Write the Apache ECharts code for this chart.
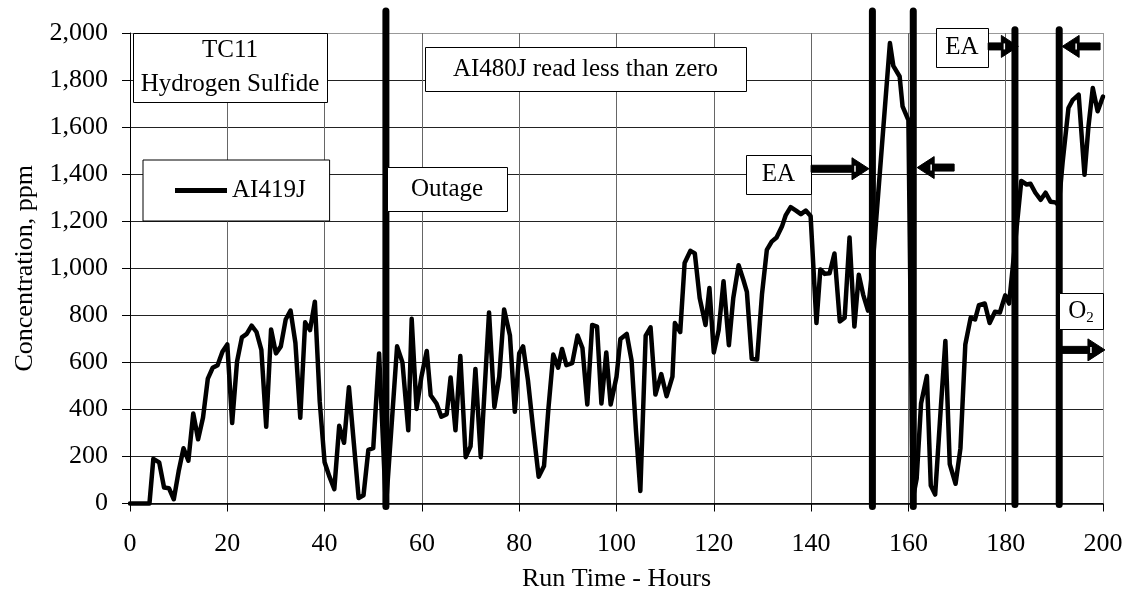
<!DOCTYPE html>
<html>
<head>
<meta charset="utf-8">
<script src="https://cdn.jsdelivr.net/npm/echarts@6/dist/echarts.min.js"></script>
<style>
html,body{margin:0;padding:0;background:#fff;}
#chart{width:1130px;height:598px;}
</style>
</head>
<body>
<div id="chart"></div>
<script>
// Run time (hours) and AI419J concentration (ppm)
const hours = [
  0,4,4.8,
  6,7,8,9,10,11,12,13,14,15,16,17,18,19,20,21,22,23,24,25,26,27,28,29,30,31,32,33,34,35,36,37,38,39,40,41,42,43,44,45,46,47,48,49,50,
  51.2,52.6,54.9,56,57.2,57.9,58.9,59.9,
  61,61.8,63,64,65.1,65.9,66.9,67.9,69,70,
  71,72.1,73.8,74.9,75.9,76.9,78.1,79.1,80,80.8,
  81.8,82.9,84,85.1,86,87,88,88.8,89.7,90.9,
  92,93,94,95,96,96.9,97.9,98.8,100,100.8,
  102.1,103.1,104,104.9,106,107,108,109.2,110.3,111.5,
  112,113.1,114,115.2,116.1,117.1,118.3,119.1,120,121,
  122,123.1,124,125.1,126.1,126.8,127.8,128.9,129.9,130.9,
  131.9,132.9,134,134.8,135.8,136.9,137.9,138.9,139.9,141.1,
  141.9,142.8,143.8,144.8,145.9,146.9,147.9,148.9,149.8,150.7,
  151.7,152.6,156.2,156.9,158.2,158.8,160.0,160.9,161.7,162.6,
  163.8,164.6,165.5,166.6,167.6,168.5,169.7,170.7,171.7,172.8,
  173.7,174.5,175.7,176.7,177.8,178.8,179.9,180.7,181.4,183.2,
  184.3,185.1,186.1,187.2,188.2,189.2,190.2,190.9,191.7,192.9,
  193.8,195.0,196.2,197.0,197.9,198.9,200
];
const ppm = [
  0,0,190,
  175,68,65,18,137,235,182,383,273,364,531,577,588,645,676,342,603,706,721,756,729,653,326,740,638,668,782,820,683,364,770,737,858,433,175,114,61,330,258,494,258,23,35,228,235,
  638,-15,668,600,311,785,402,539,
  648,460,425,369,380,536,311,627,197,243,
  572,197,812,410,539,825,714,390,638,668,
  524,311,114,159,402,633,577,657,588,597,
  714,661,421,759,752,425,642,421,539,699,
  721,607,311,53,714,749,463,550,456,539,
  767,729,1022,1074,1063,873,759,916,642,737,
  945,673,873,1013,949,900,615,612,888,1078,
  1113,1131,1177,1226,1260,1245,1230,1245,1222,767,
  995,976,979,1063,774,790,1131,752,972,888,
  820,1000,1957,1860,1815,1688,1630,20,106,425,
  542,76,38,387,691,167,84,235,676,790,
  782,843,850,767,815,812,885,850,995,1371,
  1356,1359,1321,1291,1321,1283,1280,1268,1450,1681,
  1716,1738,1397,1600,1766,1667,1730
];

// Event marker lines (hours) with their top/bottom extents (ppm)
const markerHours = [52.6, 152.6, 161.0, 181.9, 191.0];
const markerTop = [2093, 2093, 2093, 2014, 2014];
const markerBottom = [-13, -13, -13, -4, -4];

// Arrows: tail and tip in (hour, ppm)
const arrowTail = [[140.0,1423],[169.4,1428],[176.4,1943],[199.4,1943],[191.2,653]];
const arrowTip  = [[151.9,1423],[161.8,1428],[182.6,1943],[191.6,1943],[200.4,653]];

const xTicks = [0,20,40,60,80,100,120,140,160,180,200];
const yTicks = [0,200,400,600,800,1000,1200,1400,1600,1800,2000];

const FONT = "'Liberation Serif','Times New Roman',serif";

const chart = echarts.init(document.getElementById('chart'), null, {renderer:'canvas'});

const series = [{
  name: 'AI419J',
  type: 'line',
  data: hours.map((h,i)=>[h, ppm[i]]),
  symbol: 'none',
  clip: false,
  color: '#000',
  lineStyle: {color:'#000', width:4.5, join:'round', cap:'round'},
  z: 3
}];
markerHours.forEach((h,i)=>{
  series.push({
    name: 'marker'+i,
    type: 'line',
    data: [[h, markerBottom[i]],[h, markerTop[i]]],
    symbol: 'none',
    clip: false,
    silent: true,
    lineStyle: {color:'#000', width:7, cap:'round'},
    z: 4
  });
});

const xGridColors = xTicks.map((t,i)=> i===xTicks.length-1 ? '#999' : '#666');
const yGridColors = yTicks.map((t,i)=> i===yTicks.length-1 ? '#999' : '#222');

chart.setOption({
  animation: false,
  backgroundColor: '#fff',
  textStyle: {fontFamily: FONT},
  grid: {left:130, right:27, top:33, bottom:94.5, containLabel:false},
  legend: {
    data: ['AI419J'],
    left: 143, top: 160,
    orient: 'horizontal',
    icon: 'rect',
    itemWidth: 52, itemHeight: 5,
    padding: [17, 24, 17, 32],
    backgroundColor: '#fff',
    borderColor: '#000', borderWidth: 1, borderRadius: 0,
    textStyle: {fontFamily: FONT, fontSize: 25, color: '#000', lineHeight: 27},
    z: 10
  },
  xAxis: {
    type: 'value', min: 0, max: 200, interval: 20,
    name: 'Run Time - Hours', nameLocation: 'middle', nameGap: 63,
    nameTextStyle: {fontFamily: FONT, fontSize: 26, color: '#000'},
    axisLine: {show:true, onZero:false, lineStyle:{color:'#000', width:1.5}},
    axisTick: {show:true, inside:false, length:8, lineStyle:{color:'#000', width:1}},
    axisLabel: {fontFamily: FONT, fontSize: 26, color:'#000', margin: 28},
    splitLine: {show:true, lineStyle:{color: xGridColors, width:1}}
  },
  yAxis: {
    type: 'value', min: 0, max: 2000, interval: 200,
    name: 'Concentration, ppm', nameLocation: 'middle', nameGap: 92,
    nameTextStyle: {fontFamily: FONT, fontSize: 26, color: '#000'},
    axisLine: {show:true, lineStyle:{color:'#000', width:1}},
    axisTick: {show:true, inside:false, length:8, lineStyle:{color:'#000', width:1}},
    axisLabel: {fontFamily: FONT, fontSize: 26, color:'#000', margin: 22,
      formatter: v => v.toLocaleString('en-US')},
    splitLine: {show:true, lineStyle:{color: yGridColors, width:1}}
  },
  series: series
});

// Annotation boxes (pixel layout)
function box(x, y, w, h, lines, lineGap) {
  const els = [{
    type:'rect', z:20, silent:true,
    shape:{x:x+0.5, y:y+0.5, width:w, height:h},
    style:{fill:'#fff', stroke:'#000', lineWidth:1}
  }];
  const n = lines.length;
  lines.forEach((t, i)=>{
    const cy = y + h/2 + (i - (n-1)/2) * lineGap;
    els.push({
      type:'text', z:21, silent:true,
      x: x + w/2, y: cy,
      style:{text:t, font:'25px ' + FONT, fill:'#000', align:'center', verticalAlign:'middle'}
    });
  });
  return els;
}

let graphics = [];
graphics = graphics.concat(box(133, 33, 194, 69, ['TC11','Hydrogen Sulfide'], 34));
graphics = graphics.concat(box(425, 47, 321, 44, ['AI480J read less than zero'], 0));
graphics = graphics.concat(box(387, 167, 120, 44, ['Outage'], 0));
graphics = graphics.concat(box(746, 155, 65, 39, ['EA'], 0));
graphics = graphics.concat(box(936, 28, 52, 39, ['EA'], 0));
// O2 box with subscript
graphics.push({
  type:'rect', z:20, silent:true,
  shape:{x:1059.5, y:293.5, width:44, height:36},
  style:{fill:'#fff', stroke:'#000', lineWidth:1}
});
graphics.push({
  type:'text', z:21, silent:true,
  x: 1081, y: 311,
  style:{
    text:'{a|O}{b|2}', align:'center', verticalAlign:'middle',
    rich:{
      a:{font:'25px ' + FONT, fill:'#000'},
      b:{font:'15px ' + FONT, fill:'#000', padding:[14,0,0,0]}
    }
  }
});

// Arrows converted from data coordinates
arrowTail.forEach((t, i)=>{
  const p1 = chart.convertToPixel({gridIndex:0}, t);
  const p2 = chart.convertToPixel({gridIndex:0}, arrowTip[i]);
  const y = p1[1];
  const x1 = p1[0], x2 = p2[0];
  const dir = x2 > x1 ? 1 : -1;
  const hl = 17, hh = 11, sh = 3.5;
  const xb = x2 - dir*hl;
  graphics.push({
    type:'polygon', z:22, silent:true,
    shape:{points:[[x1,y-sh],[xb,y-sh],[xb,y-hh],[x2,y],[xb,y+hh],[xb,y+sh],[x1,y+sh]]},
    style:{fill:'#000', stroke:'#000', lineWidth:1}
  });
  graphics.push({
    type:'line', z:23, silent:true,
    shape:{x1:xb+dir*3, y1:y-3, x2:xb+dir*3, y2:y+3},
    style:{stroke:'#fff', lineWidth:1.5}
  });
});

chart.setOption({graphic: graphics});
</script>
</body>
</html>
